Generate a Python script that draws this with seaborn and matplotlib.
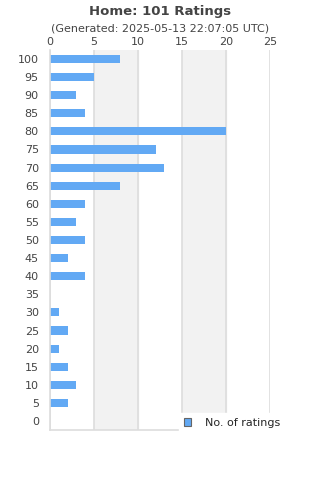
import pandas as pd
import numpy as np

import seaborn as sns
import matplotlib.pyplot as plt

sns.set_style('white')
plt.rcParams['font.family'] = ['DejaVu Sans']

ratings = ['100', '95', '90', '85', '80', '75', '70', '65', '60', '55', '50',
           '45', '40', '35', '30', '25', '20', '15', '10', '5', '0']
counts = [8, 5, 3, 4, 20, 12, 13, 8, 4, 3, 4, 2, 4, 0, 1, 2, 1, 2, 3, 2, 0]
xticks = [0, 5, 10, 15, 20, 25]

df = pd.DataFrame({'Rating': ratings, 'Count': counts})

fig = plt.figure(figsize=(3.2, 4.8), dpi=100)
ax = fig.add_axes([0.156, 0.104, 0.688, 0.792])

# alternating bands
for i in range(len(xticks) - 1):
    if i % 2 == 1:
        ax.axvspan(xticks[i], xticks[i + 1], color='#f2f2f2', zorder=0)

sns.barplot(data=df, x='Count', y='Rating', order=ratings, orient='h',
            color='#62a9f4', saturation=1, width=0.45, label='No. of ratings',
            linewidth=0, ax=ax, zorder=2)

ax.set_xlim(0, 25)
ax.set_xticks(xticks)
ax.xaxis.tick_top()
ax.xaxis.grid(True, color='#dddddd', linewidth=1.2)
ax.set_axisbelow(True)
for s in ['top', 'right']:
    ax.spines[s].set_visible(False)
for s in ['left', 'bottom']:
    ax.spines[s].set_color('#dddddd')
    ax.spines[s].set_linewidth(1.2)
ax.tick_params(axis='both', length=0, labelsize=8, colors='#444444', pad=2)
ax.tick_params(axis='y', pad=8)
ax.set_xlabel('')
ax.set_ylabel('')

fig.text(0.5, 0.977, 'Home: 101 Ratings', ha='center', va='center',
         fontsize=9.5, fontweight='bold', color='#444444')
fig.text(0.5, 0.94, '(Generated: 2025-05-13 22:07:05 UTC)', ha='center',
         va='center', fontsize=8, color='#444444')

leg = ax.legend(loc='lower right', bbox_to_anchor=(1.065, -0.005), frameon=True,
                fontsize=8, handlelength=0.7, handleheight=0.7,
                handletextpad=1.2, borderaxespad=0, fancybox=False)
leg.get_frame().set_edgecolor('white')
leg.get_frame().set_facecolor('white')
leg.get_frame().set_alpha(1)
for h in leg.legend_handles:
    h.set_edgecolor('#666666')
    h.set_linewidth(0.8)

fig.savefig('out.png', dpi=100)
